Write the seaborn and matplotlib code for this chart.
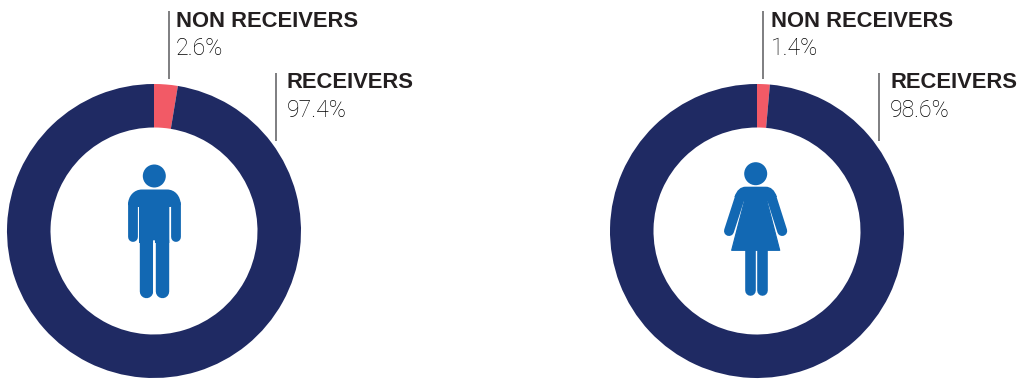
import matplotlib
matplotlib.use("Agg")
import matplotlib.pyplot as plt
import seaborn as sns
from matplotlib.patches import Circle, PathPatch, Polygon
from matplotlib.path import Path

sns.set_theme(style="white")
plt.rcParams["font.family"] = ["Liberation Sans", "DejaVu Sans"]

groups = ["Men", "Women"]
segment_names = ["NON RECEIVERS", "RECEIVERS"]
men_shares = [2.6, 97.4]
women_shares = [1.4, 98.6]

NAVY = "#1F2A63"
CORAL = "#F25A66"
BLUE = "#1268B3"
INK = "#231F20"
RULE = "#58585A"
palette = sns.color_palette([CORAL, NAVY])

W, H = 1022, 380
fig = plt.figure(figsize=(W / 100, H / 100), dpi=100, facecolor="white")
ax = fig.add_axes([0, 0, 1, 1])

MOVE, LINE, CUBIC = Path.MOVETO, Path.LINETO, Path.CURVE4


def px(width):
    return width * 72 / 100


def limb(x, y, width):
    ax.plot(x, y, color=BLUE, lw=px(width), solid_capstyle="round", zorder=3)


def filled(verts, codes):
    ax.add_patch(PathPatch(Path(verts, codes), fc=BLUE, ec="none", lw=0, zorder=3))


def draw_man(cx):
    ax.add_patch(Circle((cx + 0.3, 176), 11.5, color=BLUE, lw=0, zorder=3))
    # shoulders and torso as one outline, rounded at the top corners
    verts = [(cx - 26, 205), (cx - 26, 196), (cx - 20, 189.5), (cx - 12, 189.5),
             (cx + 13, 189.5), (cx + 21, 189.5), (cx + 26.7, 196), (cx + 26.7, 205),
             (cx + 16.3, 207), (cx + 15.3, 207), (cx + 15.3, 243), (cx - 15, 243),
             (cx - 15, 207), (cx - 16.3, 207), (cx - 26, 205)]
    codes = [MOVE, CUBIC, CUBIC, CUBIC, LINE, CUBIC, CUBIC, CUBIC,
             LINE, LINE, LINE, LINE, LINE, LINE, LINE]
    filled(verts, codes)
    limb([cx - 21.2, cx - 21.2], [204, 237], 9.8)
    limb([cx + 21.9, cx + 21.9], [204, 237], 9.8)
    limb([cx - 7.6, cx - 7.6], [240, 291], 13.4)
    limb([cx + 8.4, cx + 8.4], [240, 291], 13.4)
    ax.plot([cx + 0.4, cx + 0.4], [241, 298], color="white", lw=px(1.9), zorder=4)


def draw_woman(cx):
    ax.add_patch(Circle((cx, 173.7), 11.5, color=BLUE, lw=0, zorder=3))
    verts = [(cx - 21.3, 197), (cx - 19, 190), (cx - 15, 186.7), (cx - 10, 186.7),
             (cx + 10, 186.7), (cx + 15, 186.7), (cx + 19, 190), (cx + 21.3, 197),
             (cx + 16, 198), (cx + 11.2, 202), (cx - 11.2, 202), (cx - 16, 198)]
    codes = [MOVE, CUBIC, CUBIC, CUBIC, LINE, CUBIC, CUBIC, CUBIC,
             LINE, LINE, LINE, LINE]
    filled(verts, codes)
    ax.add_patch(Polygon([(cx - 11, 200), (cx + 11, 200), (cx + 24, 250.3),
                          (cx - 24, 250.3)], closed=True, fc=BLUE, ec=BLUE,
                         lw=px(1.2), joinstyle="round", zorder=3))
    limb([cx - 16, cx - 26.7], [198, 231], 10)
    limb([cx + 16, cx + 26.5], [198, 231], 10)
    limb([cx - 6.1, cx - 6.1], [250, 290], 10.6)
    limb([cx + 6.6, cx + 6.6], [250, 290], 10.6)


def draw_callout(rule_x, rule_top, rule_bottom, text_x, title_y, value_y, title, value):
    ax.plot([rule_x, rule_x], [rule_top, rule_bottom], color=RULE, lw=px(1.5),
            solid_capstyle="butt", zorder=2)
    ax.text(text_x, title_y, title, fontsize=15.85, fontweight="bold", color=INK,
            ha="left", va="baseline")
    ax.text(text_x, value_y, f"{value}%", fontsize=16.6, family=["Roboto", "DejaVu Sans"],
            fontweight="light", color="#000000", ha="left", va="baseline")


donut_centres = [154, 757]
for cx, shares in zip(donut_centres, [men_shares, women_shares]):
    ax.pie(shares, colors=palette, center=(cx, 231), radius=147, startangle=-90,
           counterclock=True, wedgeprops={"width": 43.5, "linewidth": 0})

draw_man(154)
draw_woman(755.7)

draw_callout(168.5, 11, 79, 176, 27, 55, segment_names[0], men_shares[0])
draw_callout(276, 73, 141, 287, 88.5, 117, segment_names[1], men_shares[1])
draw_callout(762.5, 11, 79, 771, 27, 55, segment_names[0], women_shares[0])
draw_callout(879, 73, 141, 890, 88.5, 117, segment_names[1], women_shares[1])

ax.set_xlim(0, W)
ax.set_ylim(H, 0)
ax.set_aspect("equal", adjustable="box")
ax.axis("off")

fig.savefig("out.png", dpi=100, facecolor="white")
